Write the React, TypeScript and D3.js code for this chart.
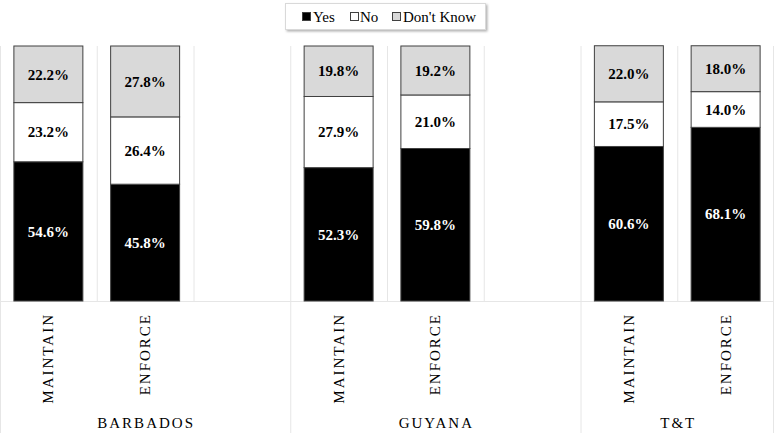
import React from "react";
import * as d3 from "d3";

const groups = ["BARBADOS", "GUYANA", "T&T"];
const subCats = ["MAINTAIN", "ENFORCE"];
// bar order: Barbados M, Barbados E, Guyana M, Guyana E, T&T M, T&T E
const yesVals = [54.6, 45.8, 52.3, 59.8, 60.6, 68.1];
const noVals = [23.2, 26.4, 27.9, 21.0, 17.5, 14.0];
const dkVals = [22.2, 27.8, 19.8, 19.2, 22.0, 18.0];
const seriesNames = ["Yes", "No", "Don't Know"];
const seriesColors = ["#000000", "#ffffff", "#d9d9d9"];

const W = 777;
const H = 433;
const plotLeft = 0;
const plotRight = 774;
const plotTop = 46;
const plotBottom = 301;

const slots: { key: string; group: number; sub: number | null }[] = [];
groups.forEach((g, gi) => {
  subCats.forEach((s, si) => slots.push({ key: `${g}-${s}`, group: gi, sub: si }));
  if (gi < groups.length - 1) slots.push({ key: `${g}-gap`, group: gi, sub: null });
});

const x = d3
  .scaleBand<string>()
  .domain(slots.map((s) => s.key))
  .range([plotLeft, plotRight])
  .paddingInner(0)
  .paddingOuter(0);

const y = d3.scaleLinear().domain([0, 100]).range([plotBottom, plotTop]);

const serif = "Liberation Serif";

export default function App() {
  const bw = x.bandwidth();
  const barW = bw * 0.713;
  const barSlots = slots.filter((s) => s.sub !== null);

  const groupBounds = groups.map((g, gi) => {
    const gs = slots.filter((s) => s.group === gi);
    const x0 = x(gs[0].key)!;
    const x1 = x(gs[gs.length - 1].key)! + bw;
    return { x0, x1 };
  });

  const stack = barSlots.map((s, i) => {
    const vals = [yesVals[i], noVals[i], dkVals[i]];
    let acc = 0;
    return vals.map((v, k) => {
      const seg = { y0: acc, y1: acc + v, v, k };
      acc += v;
      return seg;
    });
  });

  const legendItems = [
    { x: 302, tx: 313 },
    { x: 350, tx: 360 },
    { x: 392, tx: 403 },
  ];

  const ts = { fontFamily: serif };

  return (
    <svg
      width={W}
      height={H}
      style={{ position: "absolute", left: 0, top: 0, background: "#fff", fontFamily: serif }}
    >
      <defs>
        <filter id="sh" x="-10%" y="-30%" width="130%" height="180%">
          <feDropShadow dx="1.5" dy="1.5" stdDeviation="1.2" floodColor="#000" floodOpacity="0.3" />
        </filter>
      </defs>
      <rect width={W} height={H} fill="#fff" />
      {slots.map((s) => (
        <line
          key={"g" + s.key}
          x1={x(s.key)! + 0.5}
          x2={x(s.key)! + 0.5}
          y1={plotTop}
          y2={plotBottom}
          stroke="#e6e6e6"
          strokeWidth={1}
        />
      ))}
      <line x1={plotRight - 0.5} x2={plotRight - 0.5} y1={plotTop} y2={H} stroke="#e6e6e6" />
      <line x1={plotLeft} x2={plotRight} y1={plotBottom + 0.5} y2={plotBottom + 0.5} stroke="#e6e6e6" />
      {groupBounds.map((b, i) => (
        <line key={"gb" + i} x1={b.x0 + 0.5} x2={b.x0 + 0.5} y1={plotBottom} y2={H} stroke="#e6e6e6" />
      ))}
      {barSlots.map((s, i) => {
        const cx = x(s.key)! + bw / 2;
        return (
          <g key={s.key}>
            {stack[i].map((seg) => {
              const top = y(seg.y1);
              const bot = y(seg.y0);
              return (
                <rect
                  key={seg.k}
                  x={cx - barW / 2}
                  y={top}
                  width={barW}
                  height={bot - top}
                  fill={seriesColors[seg.k]}
                  stroke="#404040"
                  strokeWidth={1}
                />
              );
            })}
            {stack[i].map((seg) => (
              <text
                key={"t" + seg.k}
                x={cx}
                y={(y(seg.y1) + y(seg.y0)) / 2}
                dy="0.35em"
                textAnchor="middle"
                fontSize={15}
                fontWeight="bold"
                fill={seg.k === 0 ? "#fff" : "#000"}
                style={ts}
              >
                {seg.v.toFixed(1)}%
              </text>
            ))}
            <text
              transform={`translate(${cx + 5},${313}) rotate(-90)`}
              textAnchor="end"
              fontSize={15}
              letterSpacing={2}
              fill="#000"
              style={ts}
            >
              {subCats[s.sub!]}
            </text>
          </g>
        );
      })}
      {groups.map((g, gi) => (
        <text
          key={g}
          x={(groupBounds[gi].x0 + groupBounds[gi].x1) / 2 + 1}
          y={428}
          textAnchor="middle"
          fontSize={15}
          letterSpacing={2}
          fill="#000"
          style={ts}
        >
          {g}
        </text>
      ))}
      <rect x={285.5} y={3.5} width={200} height={26} fill="#fff" stroke="#d9d9d9" filter="url(#sh)" />
      {seriesNames.map((n, i) => (
        <g key={n}>
          <rect
            x={legendItems[i].x + 0.5}
            y={12.5}
            width={8}
            height={8}
            fill={seriesColors[i]}
            stroke="#404040"
            strokeWidth={1}
          />
          <text x={legendItems[i].tx} y={22} fontSize={15} fill="#000" style={ts}>
            {n}
          </text>
        </g>
      ))}
    </svg>
  );
}
